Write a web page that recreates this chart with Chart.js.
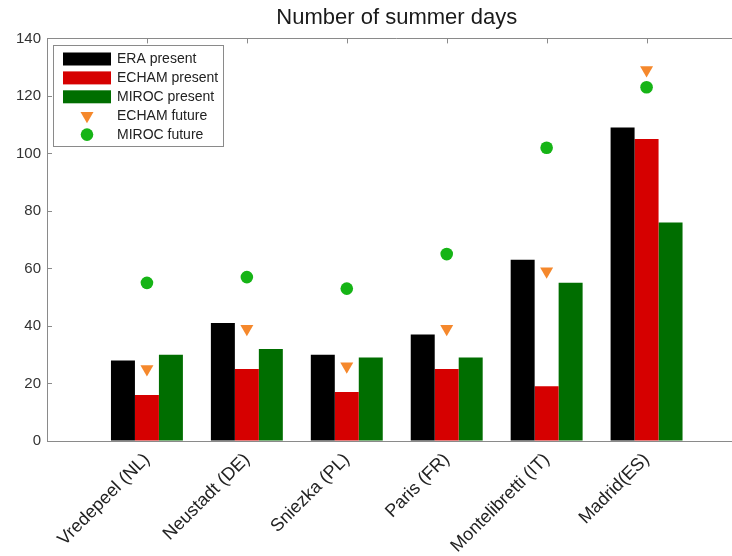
<!DOCTYPE html>
<html>
<head>
<meta charset="utf-8">
<script src="https://cdn.jsdelivr.net/npm/chart.js@4/dist/chart.umd.min.js"></script>
<style>
  html, body { margin: 0; padding: 0; overflow: hidden; background: #fff; width: 732px; height: 556px; }
  #wrap { position: absolute; left: 0; top: 0; width: 754px; height: 556px; }
</style>
</head>
<body>
<div id="wrap"><canvas id="chart" width="754" height="556"></canvas></div>
<script>
// Stations and number of summer days per data source
const stations = ['Vredepeel (NL)', 'Neustadt (DE)', 'Sniezka (PL)', 'Paris (FR)', 'Montelibretti (IT)', 'Madrid(ES)'];
const eraPresent   = [28, 41, 30, 37, 63, 109];
const echamPresent = [16, 25, 17, 25, 19, 105];
const mirocPresent = [30, 32, 29, 29, 55, 76];
const echamFuture  = [25, 39, 26, 39, 59, 129];
const mirocFuture  = [55, 57, 53, 65, 102, 123];
const yTicks = [0, 20, 40, 60, 80, 100, 120, 140];

const AXIS = '#8a8a8a';
const FONT = "'Liberation Sans', Arial, sans-serif";

// station i sits at x = i + 1 on a 0..7 axis
const toPoints = arr => arr.map((v, i) => ({ x: i + 1, y: v }));

// MATLAB-style box: inward ticks on the left axis, top border with ticks, legend inside the axes
const framePlugin = {
  id: 'frame',
  afterDatasetsDraw(chart) {
    const { ctx, chartArea: a } = chart;
    const xs = chart.scales.x, ys = chart.scales.y;
    ctx.save();
    ctx.strokeStyle = AXIS;
    ctx.lineWidth = 1;
    ctx.beginPath();
    // top border
    ctx.moveTo(a.left, Math.round(a.top) + 0.5);
    ctx.lineTo(a.right, Math.round(a.top) + 0.5);
    // right border
    ctx.moveTo(Math.round(a.right) + 0.5, a.top);
    ctx.lineTo(Math.round(a.right) + 0.5, a.bottom);
    // left inward ticks
    yTicks.forEach(v => {
      const y = Math.round(ys.getPixelForValue(v)) + 0.5;
      ctx.moveTo(a.left, y);
      ctx.lineTo(a.left + 5, y);
    });
    // top inward ticks at station positions
    stations.forEach((s, i) => {
      const x = Math.round(xs.getPixelForValue(i + 1)) + 0.5;
      ctx.moveTo(x, a.top);
      ctx.lineTo(x, a.top + 5);
    });
    ctx.stroke();
    ctx.restore();
  },
  afterDraw(chart) {
    const { ctx, chartArea: a } = chart;
    const bx = Math.round(a.left) + 6.5, by = Math.round(a.top) + 7.5, bw = 170, bh = 101;
    ctx.save();
    ctx.fillStyle = '#fff';
    ctx.fillRect(bx, by, bw, bh);
    ctx.strokeStyle = AXIS;
    ctx.lineWidth = 1;
    ctx.strokeRect(bx, by, bw, bh);
    ctx.font = '14px ' + FONT;
    ctx.textBaseline = 'middle';
    ctx.textAlign = 'left';
    chart.data.datasets.forEach((ds, i) => {
      const cy = by + 13.5 + i * 18.9;
      const cx = bx + 33.5;
      ctx.fillStyle = ds.backgroundColor;
      if (ds.type === 'line') {
        ctx.beginPath();
        if (ds.pointStyle === 'triangle') {
          const r = ds.pointRadius;
          ctx.moveTo(cx, cy + r);
          ctx.lineTo(cx - r * Math.sqrt(3) / 2, cy - r / 2);
          ctx.lineTo(cx + r * Math.sqrt(3) / 2, cy - r / 2);
          ctx.closePath();
        } else {
          ctx.arc(cx, cy, ds.pointRadius, 0, Math.PI * 2);
        }
        ctx.fill();
      } else {
        ctx.fillRect(bx + 9.5, cy - 6.5, 48, 13);
      }
      ctx.fillStyle = '#222';
      ctx.fillText(ds.label, bx + 63.5, cy + 0.5);
    });
    ctx.restore();
  }
};

new Chart(document.getElementById('chart'), {
  type: 'bar',
  data: {
    datasets: [
      { label: 'ERA present', data: toPoints(eraPresent), backgroundColor: '#000000' },
      { label: 'ECHAM present', data: toPoints(echamPresent), backgroundColor: '#d60000' },
      { label: 'MIROC present', data: toPoints(mirocPresent), backgroundColor: '#006e00' },
      { label: 'ECHAM future', type: 'line', data: toPoints(echamFuture), showLine: false,
        pointStyle: 'triangle', rotation: 180, pointRotation: 180, pointRadius: 7.5, borderWidth: 0, pointBorderWidth: 0,
        backgroundColor: '#f5882c', pointBackgroundColor: '#f5882c' },
      { label: 'MIROC future', type: 'line', data: toPoints(mirocFuture), showLine: false,
        pointStyle: 'circle', pointRadius: 6.3, borderWidth: 0, pointBorderWidth: 0,
        backgroundColor: '#16b416', pointBackgroundColor: '#16b416' }
    ]
  },
  options: {
    responsive: false,
    animation: false,
    devicePixelRatio: 1,
    categoryPercentage: 0.72,
    barPercentage: 1,
    layout: { padding: { left: 0, right: 2, top: 0, bottom: 0 } },
    plugins: {
      legend: { display: false },
      tooltip: { enabled: false },
      title: {
        display: true,
        text: 'Number of summer days',
        fullSize: false,
        color: '#1a1a1a',
        font: { family: FONT, size: 22, weight: 'normal' },
        padding: { top: 5, bottom: 7 }
      }
    },
    scales: {
      x: {
        type: 'linear',
        min: 0,
        max: 7,
        offset: false,
        grid: { display: true, drawOnChartArea: false, drawTicks: false, offset: false },
        border: { display: true, color: AXIS, width: 1 },
        afterBuildTicks: s => { s.ticks = [0, 1, 2, 3, 4, 5, 6, 7].map(v => ({ value: v })); },
        ticks: {
          autoSkip: false,
          maxRotation: 45,
          minRotation: 45,
          padding: 8,
          color: '#222',
          font: { family: FONT, size: 18 },
          callback: v => stations[v - 1] || ''
        },
        afterFit: s => { s.height = 115; s.paddingLeft = 0; s.paddingRight = 0; }
      },
      y: {
        min: 0,
        max: 140,
        grid: { display: true, drawOnChartArea: false, drawTicks: false },
        border: { display: true, color: AXIS, width: 1 },
        afterBuildTicks: s => { s.ticks = yTicks.map(v => ({ value: v })); },
        ticks: {
          padding: 6,
          color: '#333',
          font: { family: FONT, size: 15 }
        },
        afterFit: s => { s.width = 47; }
      }
    }
  },
  plugins: [framePlugin]
});
</script>
</body>
</html>
